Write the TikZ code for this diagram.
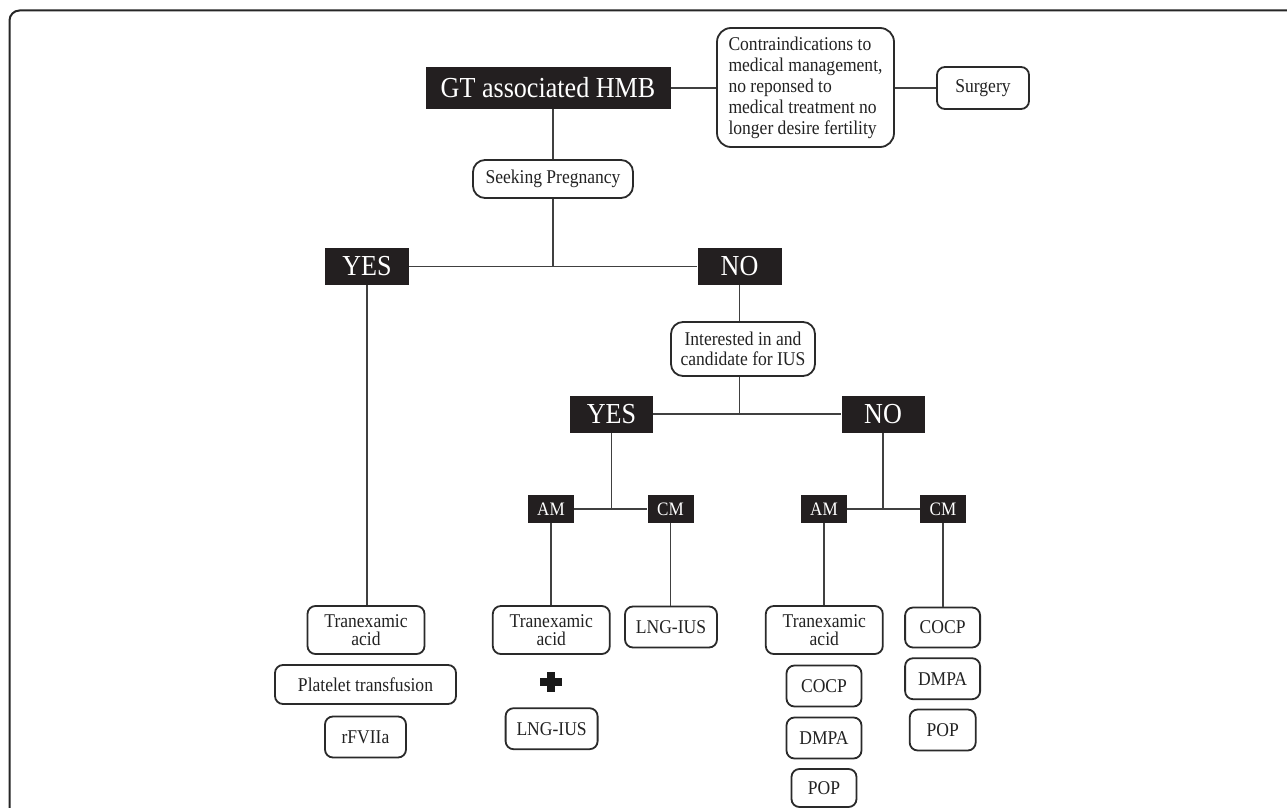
\documentclass[tikz,border=0pt]{standalone}
\usepackage{fontspec}
\setmainfont{Liberation Serif}[FakeStretch=0.9]
\definecolor{boxdark}{HTML}{231F20}
\definecolor{linecol}{HTML}{404040}
\definecolor{bordercol}{HTML}{2A2A2A}
\definecolor{textcol}{HTML}{222222}
\begin{document}
\begin{tikzpicture}[x=1pt,y=-1pt,
  darkbox/.style={fill=boxdark,text=white,inner sep=0pt,font=\fontsize{29}{32}\selectfont},
  smalldark/.style={fill=boxdark,text=white,inner sep=0pt,minimum width=46pt,minimum height=28pt,font=\fontsize{19}{21}\selectfont},
  softbox/.style={draw=bordercol,line width=1.8pt,rounded corners=8pt,fill=white,text=textcol,inner sep=0pt,align=center,font=\fontsize{19.5}{18}\selectfont},
  conn/.style={draw=linecol,line width=1.9pt},
  frame/.style={draw=black!85,line width=2pt,rounded corners=10pt}]
\useasboundingbox (0,0) rectangle (1287,808);
\fill[white] (0,0) rectangle (1287,808);
\draw[frame] (9.5,812) -- (9.5,10.5) -- (1292,10.5);

% top row
\node[darkbox,minimum width=245pt,minimum height=42pt] (gt) at (548,88) {GT associated HMB};
\node[softbox,rounded corners=14pt,minimum width=177pt,minimum height=119pt,align=left,font=\fontsize{19.5}{21}\selectfont] (contra) at (805.5,87.5) {Contraindications to\\medical management,\\no reponsed to\\medical treatment no\\longer desire fertility};
\node[softbox,minimum width=92pt,minimum height=42pt] (surgery) at (983,88) {Surgery};
\node[softbox,rounded corners=12pt,minimum width=160pt,minimum height=38pt] (seek) at (553,179) {Seeking Pregnancy};

% first decision
\node[darkbox,minimum width=84pt,minimum height=37pt] (yes1) at (367,266.5) {YES};
\node[darkbox,minimum width=84pt,minimum height=37pt] (no1) at (739.5,266.5) {NO};
\node[softbox,rounded corners=12pt,minimum width=144pt,minimum height=54pt,font=\fontsize{19.5}{20}\selectfont] (interested) at (743,349) {Interested in and\\candidate for IUS};

% second decision
\node[darkbox,minimum width=83pt,minimum height=37pt] (yes2) at (611.5,414) {YES};
\node[darkbox,minimum width=83pt,minimum height=37pt] (no2) at (883,414) {NO};

\node[smalldark] (am1) at (551,509) {AM};
\node[smalldark] (cm1) at (670.5,509) {CM};
\node[smalldark] (am2) at (824,509) {AM};
\node[smalldark] (cm2) at (943,509) {CM};

% YES branch treatments
\node[softbox,minimum width=117pt,minimum height=48pt] (tx1) at (366,630) {Tranexamic\\acid};
\node[softbox,minimum width=181pt,minimum height=39pt] (plat) at (365.5,684.5) {Platelet transfusion};
\node[softbox,minimum width=81pt,minimum height=41pt] (rf) at (365.5,737) {rFVIIa};

% IUS yes
\node[softbox,minimum width=117pt,minimum height=48pt] (tx2) at (551.3,630) {Tranexamic\\acid};
\node[inner sep=0pt,minimum size=22pt] (plus) at (551,682) {};
\fill[black!90] (plus.center) ++(-11,-3.6) rectangle ++(22,7.2);
\fill[black!90] (plus.center) ++(-3.6,-10) rectangle ++(7.2,20);
\node[softbox,minimum width=92pt,minimum height=41pt] (lng2) at (551.6,728.7) {LNG-IUS};
\node[softbox,minimum width=92pt,minimum height=41pt] (lng1) at (671,627) {LNG-IUS};

% IUS no
\node[softbox,minimum width=117pt,minimum height=48pt] (tx3) at (824.3,630) {Tranexamic\\acid};
\node[softbox,minimum width=75pt,minimum height=41pt] (cocp1) at (824,686) {COCP};
\node[softbox,minimum width=75pt,minimum height=41pt] (dmpa1) at (824,738) {DMPA};
\node[softbox,minimum width=65pt,minimum height=38pt] (pop1) at (824,788) {POP};
\node[softbox,minimum width=75pt,minimum height=40pt] (cocp2) at (942.6,627.5) {COCP};
\node[softbox,minimum width=75pt,minimum height=41pt] (dmpa2) at (942.6,678.7) {DMPA};
\node[softbox,minimum width=66pt,minimum height=41pt] (pop2) at (942.7,730) {POP};

% connectors
\coordinate (j1) at (seek.south |- yes1.east);
\coordinate (j2) at (no1.south |- yes2.east);
\coordinate (j3) at (yes2.south |- am1.east);
\coordinate (j4) at (no2.south |- am2.east);

\draw[conn] (seek.north) -- (seek.north |- gt.south);
\draw[conn] (gt.east) -- (gt.east -| contra.west);
\draw[conn] (contra.east |- surgery.west) -- (surgery.west);
\draw[conn] (seek.south) -- (j1);
\draw[conn] (yes1.east) -- (no1.west);
\draw[conn] (yes1.south) -- (yes1.south |- tx1.north);
\draw[conn] (no1.south) -- (no1.south |- interested.north);
\draw[conn] (interested.south -| no1.south) -- (j2);
\draw[conn] (yes2.east) -- (no2.west);
\draw[conn] (yes2.south) -- (j3);
\draw[conn] (am1.east) -- (cm1.west);
\draw[conn] (no2.south) -- (j4);
\draw[conn] (am2.east) -- (cm2.west);
\draw[conn] (am1.south) -- (am1.south |- tx2.north);
\draw[conn] (cm1.south) -- (cm1.south |- lng1.north);
\draw[conn] (am2.south) -- (am2.south |- tx3.north);
\draw[conn] (cm2.south) -- (cm2.south |- cocp2.north);
\end{tikzpicture}
\end{document}
